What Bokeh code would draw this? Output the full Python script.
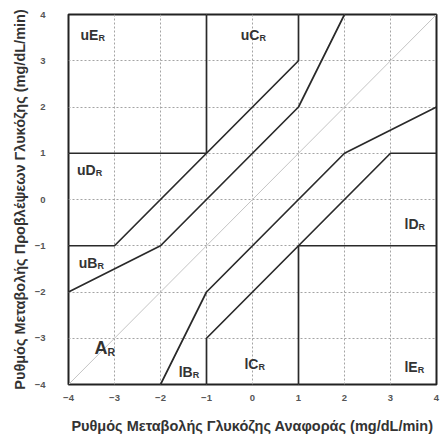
from bokeh.plotting import figure
from bokeh.models import ColumnDataSource, FixedTicker
from bokeh.core.properties import value
from bokeh.embed import file_html
from bokeh.resources import INLINE

# Rate error grid: axis range and ticks (mg/dL/min)
ticks = [-4, -3, -2, -1, 0, 1, 2, 3, 4]

# Identity line
ident_x = [-4, 4]
ident_y = [-4, 4]

# Zone boundaries (reference rate, predicted rate)
upper_ab_x = [-4, -2, 1, 2]
upper_ab_y = [-2, -1, 2, 4]
upper_bc_x = [-4, -3, -1, 1, 1]
upper_bc_y = [-1, -1, 1, 3, 4]
upper_d_x = [-4, -1, -1]
upper_d_y = [1, 1, 4]
lower_ab_x = [-2, -1, 2, 4]
lower_ab_y = [-4, -2, 1, 2]
lower_bc_x = [-1, -1, 1, 3, 4]
lower_bc_y = [-4, -3, -1, 1, 1]
lower_d_x = [4, 1, 1]
lower_d_y = [-1, -1, -4]

# Zone names, main part and subscript, anchored where the two meet
zone_main = ["uE", "uC", "uD", "uB", "A", "lB", "lC", "lD", "lE"]
zone_x = [-3.35, 0.15, -3.41, -3.37, -3.15, -1.30, 0.13, 3.61, 3.59]
zone_y = [3.55, 3.55, 0.63, -1.38, -3.22, -3.74, -3.55, -0.52, -3.63]
zone_sub = ["R"] * len(zone_main)

p = figure(width=440, height=437, x_range=(-4, 4), y_range=(-4, 4),
           output_backend="svg", toolbar_location=None,
           min_border_left=68, min_border_right=4, min_border_top=14,
           min_border_bottom=53)
p.background_fill_color = "white"
p.border_fill_color = "white"
p.outline_line_color = "#222222"
p.outline_line_width = 2

for ax in (p.xaxis[0], p.yaxis[0]):
    ax.ticker = FixedTicker(ticks=ticks)
    ax.axis_line_color = None
    ax.major_tick_line_color = None
    ax.minor_tick_line_color = None
    ax.major_label_text_font = "Liberation Sans"
    ax.major_label_text_font_style = "bold"
    ax.major_label_text_font_size = "9.5px"
    ax.major_label_text_color = "#555555"
    ax.axis_label_text_font = "Liberation Sans"
    ax.axis_label_text_font_style = "bold"
    ax.axis_label_text_font_size = "14.5px"
    ax.axis_label_text_color = "#333333"

p.xaxis[0].major_label_standoff = 4
p.xaxis[0].axis_label_standoff = 14
p.yaxis[0].major_label_standoff = 17
p.yaxis[0].axis_label_standoff = 4
p.xaxis.axis_label = "Ρυθμός Μεταβολής Γλυκόζης Αναφοράς (mg/dL/min)"
p.yaxis.axis_label = "Ρυθμός Μεταβολής Προβλέψεων Γλυκόζης (mg/dL/min)"

p.xgrid.ticker = FixedTicker(ticks=ticks)
p.ygrid.ticker = FixedTicker(ticks=ticks)
p.grid.grid_line_color = "#a4a4a4"
p.grid.grid_line_dash = "2 2"
p.grid.grid_line_width = 1

p.line(ident_x, ident_y, line_color="#c4c4c4", line_width=1)

line_kw = dict(line_color="#2a2a2a", line_width=1.7)
for xs, ys in [(upper_ab_x, upper_ab_y), (upper_bc_x, upper_bc_y),
               (upper_d_x, upper_d_y), (lower_ab_x, lower_ab_y),
               (lower_bc_x, lower_bc_y), (lower_d_x, lower_d_y)]:
    p.line(xs, ys, **line_kw)

big = [m == "A" for m in zone_main]
src = ColumnDataSource(dict(
    x=zone_x, y=zone_y, main=zone_main, sub=zone_sub,
    msize=["18px" if b else "14px" for b in big],
    ssize=["10.5px" if b else "9px" for b in big],
    soff=[4 if b else 3 for b in big],
))
p.text(x="x", y="y", text="main", source=src, text_align="right",
       text_baseline="middle", text_font=value("Liberation Sans"),
       text_font_style="bold", text_font_size="msize", text_color="#333333")
p.text(x="x", y="y", text="sub", source=src, text_align="left",
       text_baseline="middle", y_offset="soff",
       text_font=value("Liberation Sans"), text_font_style="bold",
       text_font_size="ssize", text_color="#333333")

open("out.html", "w").write(file_html(p, INLINE))
